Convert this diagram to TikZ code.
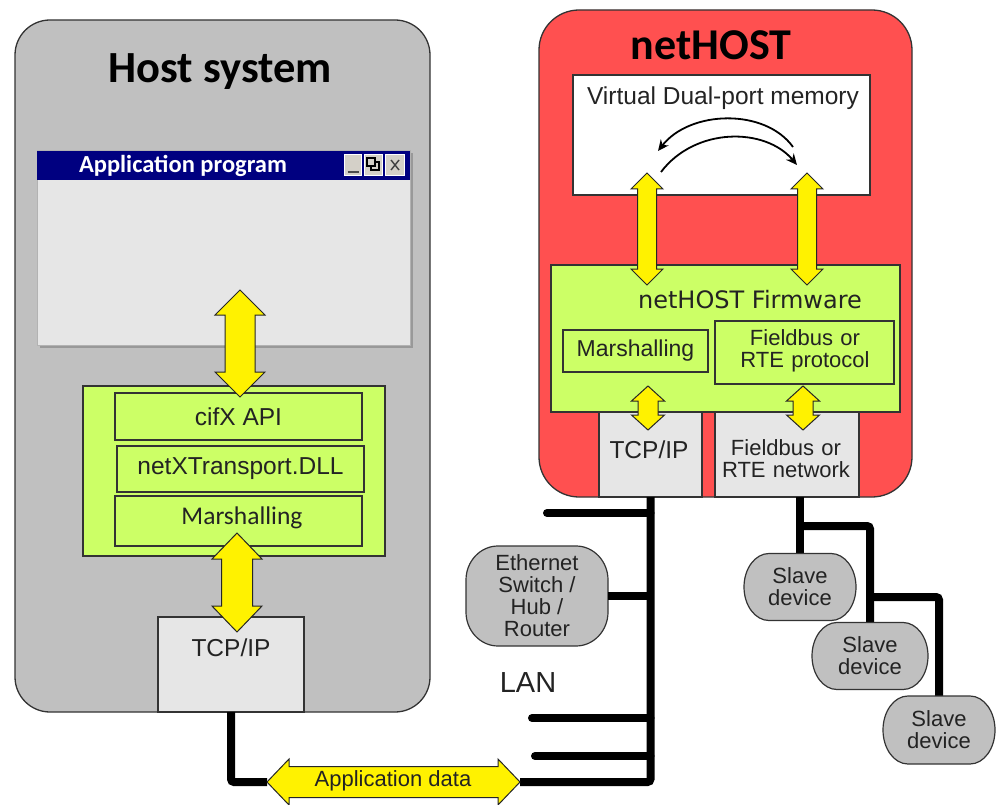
\documentclass[tikz,border=0pt]{standalone}
\usepackage{fontspec}
\setmainfont{Liberation Sans}
\newfontfamily\calfont{Carlito}
\newfontfamily\dvsfont{DejaVu Sans}
\usetikzlibrary{arrows.meta}
\definecolor{hostgray}{RGB}{192,192,192}
\definecolor{lightbox}{RGB}{230,230,230}
\definecolor{fwgreen}{RGB}{204,255,102}
\definecolor{nhred}{RGB}{255,80,80}
\definecolor{navy}{RGB}{0,0,128}
\definecolor{btn}{RGB}{212,208,200}
\definecolor{txt}{RGB}{35,35,35}
\tikzset{
  box/.style={draw=black!80, line width=1.3pt, inner sep=0pt, outer sep=0pt},
  wire/.style={line width=8pt, black},
  yarrow/.style={fill=yellow, draw=black!85, line width=1pt, line join=miter},
  lbl/.style={font=\fontsize{22}{22}\selectfont, text=txt, align=center, inner sep=0pt},
  biglbl/.style={lbl, font=\fontsize{24.5}{24.5}\selectfont},
  anchorbox/.style={inner sep=0pt, outer sep=0pt},
  pillline/.style={draw=black!80, fill=hostgray, line width=1.2pt},
}
\newcommand\vdarrow[6]{%
  \filldraw[yarrow] (#1,#2) -- (#1+#5,#2+#6) -- (#1+#4,#2+#6) -- (#1+#4,#3-#6) -- (#1+#5,#3-#6) -- (#1,#3)
   -- (#1-#5,#3-#6) -- (#1-#4,#3-#6) -- (#1-#4,#2+#6) -- (#1-#5,#2+#6) -- cycle;}
\newcommand\hdarrow[6]{%
  \filldraw[yarrow] (#1,#3) -- (#1+#6,#3-#5) -- (#1+#6,#3-#4) -- (#2-#6,#3-#4) -- (#2-#6,#3-#5) -- (#2,#3)
   -- (#2-#6,#3+#5) -- (#2-#6,#3+#4) -- (#1+#6,#3+#4) -- (#1+#6,#3+#5) -- cycle;}
% oval-cornered box drawn around a named node: #1 node, #2 x-radius, #3 y-radius
\newcommand\ovalbox[3]{%
  \filldraw[pillline] ([xshift=#2]#1.north west) -- ([xshift=-#2]#1.north east)
   .. controls ([xshift=-0.448*#2]#1.north east) and ([yshift=-0.448*#3]#1.north east) .. ([yshift=-#3]#1.north east)
   -- ([yshift=#3]#1.south east)
   .. controls ([yshift=0.448*#3]#1.south east) and ([xshift=-0.448*#2]#1.south east) .. ([xshift=-#2]#1.south east)
   -- ([xshift=#2]#1.south west)
   .. controls ([xshift=0.448*#2]#1.south west) and ([yshift=0.448*#3]#1.south west) .. ([yshift=#3]#1.south west)
   -- ([yshift=-#3]#1.north west)
   .. controls ([yshift=-0.448*#3]#1.north west) and ([xshift=0.448*#2]#1.north west) .. ([xshift=#2]#1.north west) -- cycle;}
\begin{document}
\begin{tikzpicture}[x=1pt,y=-1pt]
\useasboundingbox (0,0) rectangle (996,805);
\fill[white] (0,0) rectangle (996,805);

% ---------------- Host system ----------------
\node[box, fill=hostgray, rounded corners=35, minimum width=415, minimum height=692] (host) at (222.5,366) {};
\node[font=\calfont\bfseries\fontsize{44.5}{44.5}\selectfont, inner sep=0pt] (hosttitle) at (220,72) {Host system};

% application window
\fill[black!40] (40,153) rectangle (413,348);
\node[draw=black!30, line width=0.8pt, fill=lightbox, minimum width=373, minimum height=195, inner sep=0pt] (appwin) at (223.5,247.5) {};
\node[fill=navy, minimum width=373, minimum height=29, inner sep=0pt] (titlebar) at (223.5,165.5) {};
\node[font=\calfont\bfseries\fontsize{24.5}{24.5}\selectfont, text=white, inner sep=0pt] (apptitle) at (183,166) {Application program};
\node[fill=btn, draw=white, line width=0.6pt, minimum width=17, minimum height=21, inner sep=0pt] (bmin) at (352.5,165) {};
\node[fill=btn, draw=white, line width=0.6pt, minimum width=18, minimum height=21, inner sep=0pt] (bres) at (373,165) {};
\node[fill=btn, draw=white, line width=0.6pt, minimum width=19, minimum height=21, inner sep=0pt] (bcls) at (395,165) {};
\draw[black!70, line width=2pt] ([xshift=-5pt,yshift=-7pt]bmin.center) -- ([xshift=6pt,yshift=-7pt]bmin.center);
\draw[black, line width=1.1pt] ([xshift=-2pt,yshift=-5pt]bres.center) rectangle ([xshift=6pt,yshift=3pt]bres.center);
\draw[black, line width=1.1pt, fill=btn] ([xshift=-6pt,yshift=-1pt]bres.center) rectangle ([xshift=2pt,yshift=7pt]bres.center);
\draw[black!75, line width=1.4pt] ([xshift=-4pt,yshift=-5pt]bcls.center) -- ([xshift=4pt,yshift=5pt]bcls.center)
  ([xshift=-4pt,yshift=5pt]bcls.center) -- ([xshift=4pt,yshift=-5pt]bcls.center);

% green stack
\node[box, fill=fwgreen, minimum width=302, minimum height=170] (hgreen) at (234,471) {};
\node[box, fill=fwgreen, minimum width=247, minimum height=47] (cifx) at (238.5,416.5) {};
\node[biglbl] at (cifx.center) {cifX API};
\node[box, fill=fwgreen, minimum width=247, minimum height=46] (netx) at (240.5,469) {};
\node[biglbl] at (netx.center) {netXTransport.DLL};
\node[box, fill=fwgreen, minimum width=247, minimum height=50] (hmarsh) at (238.5,521) {};
\node[font=\calfont\fontsize{25.5}{25.5}\selectfont, text=txt, inner sep=0pt] at (242,518) {Marshalling};

% host TCP/IP
\node[box, fill=lightbox, line width=1.1pt, minimum width=146, minimum height=95] (htcp) at (231,664.5) {};
\node[biglbl] (htcplbl) at (231,648) {TCP/IP};

% ---------------- netHOST ----------------
\node[box, fill=nhred, rounded corners=40, minimum width=373, minimum height=487] (nethost) at (725.5,253.5) {};
\node[font=\calfont\bfseries\fontsize{44}{44}\selectfont, inner sep=0pt] (nhtitle) at (711,45) {netHOST};
\node[box, fill=white, minimum width=297, minimum height=120] (dpm) at (721.5,135) {};
\node[biglbl] (dpmlbl) at (723,98) {Virtual Dual-port memory};
\draw[-{Stealth[length=11pt,width=10pt]}, line width=1.8pt] (793,147) .. controls (765,108) and (690,110) .. (658,151);
\draw[-{Stealth[length=11pt,width=10pt]}, line width=1.8pt] (661,172) .. controls (695,127) and (765,127) .. (797,165);

\node[box, fill=fwgreen, minimum width=349, minimum height=147] (fw) at (725.5,338.5) {};
\node[font=\dvsfont\fontsize{24}{24}\selectfont, text=txt, inner sep=0pt] (fwlbl) at (750,300) {netHOST Firmware};
\node[box, fill=fwgreen, minimum width=145, minimum height=42] (nmarsh) at (635.5,351) {};
\node[lbl, font=\fontsize{23}{23}\selectfont] at (nmarsh.center) {Marshalling};
\node[box, fill=fwgreen, minimum width=179, minimum height=63] (proto) at (804.5,352.5) {};
\node[lbl, text width=170] at (805,351) {Fieldbus or\\RTE protocol};

\node[box, fill=lightbox, line width=1.1pt, minimum width=103, minimum height=85] (ntcp) at (650.5,454.5) {};
\node[biglbl] at (649,450) {TCP/IP};
\node[box, fill=lightbox, line width=1.1pt, minimum width=144, minimum height=85] (fbnet) at (787,454.5) {};
\node[lbl, text width=140] at (786,459) {Fieldbus or\\RTE network};

% ---------------- yellow arrows ----------------
\vdarrow{240}{290}{397}{15}{25}{25}
\vdarrow{237}{533}{632}{15.5}{25}{26}
\vdarrow{647}{173}{285}{9.5}{16}{16}
\vdarrow{807}{173}{285}{9.5}{16}{16}
\vdarrow{648}{386}{430}{10}{16.5}{15}
\vdarrow{803}{386}{430}{10}{16.5}{15}

% ---------------- LAN ----------------
\node[anchorbox, minimum width=142, minimum height=100] (eth) at (537,596) {};
\ovalbox{eth}{32}{34}
\node[lbl] at (eth.center) {Ethernet\\Switch /\\Hub /\\Router};
\node[font=\fontsize{29}{29}\selectfont, text=txt, inner sep=0pt] (lan) at (528,683) {LAN};

\coordinate (adL) at (267,782);
\coordinate (adR) at (520,782);
\coordinate (s1) at (547,513);
\coordinate (s2) at (532,718);
\coordinate (s3) at (535,756);

\draw[wire, rounded corners=3] (ntcp.south) |- (adR);
\draw[wire, rounded corners=3] (htcp.south) |- (adL);
\draw[wire] (eth.east) -- (eth.east -| ntcp.south);
\draw[wire, line cap=round] (s1) -- (s1 -| ntcp.south);
\draw[wire, line cap=round] (s2) -- (s2 -| ntcp.south);
\draw[wire, line cap=round] (s3) -- (s3 -| ntcp.south);

% ---------------- slave devices ----------------
\node[anchorbox, minimum width=112, minimum height=67] (slave1) at (800,587) {};
\node[anchorbox, minimum width=116, minimum height=67] (slave2) at (870,656) {};
\node[anchorbox, minimum width=112, minimum height=68] (slave3) at (939,730) {};
\draw[wire] (fbnet.south -| slave1.north) -- (slave1.north);
\draw[wire, rounded corners=3] ([yshift=-3pt]slave1.north |- 0,523) -| (slave2.north);
\draw[wire, rounded corners=3] ([xshift=-4pt]slave2.north |- 0,597) -| (slave3.north);
\ovalbox{slave1}{25}{33.5}
\node[lbl] at (slave1.center) {Slave\\device};
\ovalbox{slave2}{25}{33.5}
\node[lbl] at (slave2.center) {Slave\\device};
\ovalbox{slave3}{25}{34}
\node[lbl] at (slave3.center) {Slave\\device};

% application data
\hdarrow{267}{520}{782}{15.5}{23}{22}
\node[lbl] (appdata) at (393,781) {Application data};
\end{tikzpicture}
\end{document}
